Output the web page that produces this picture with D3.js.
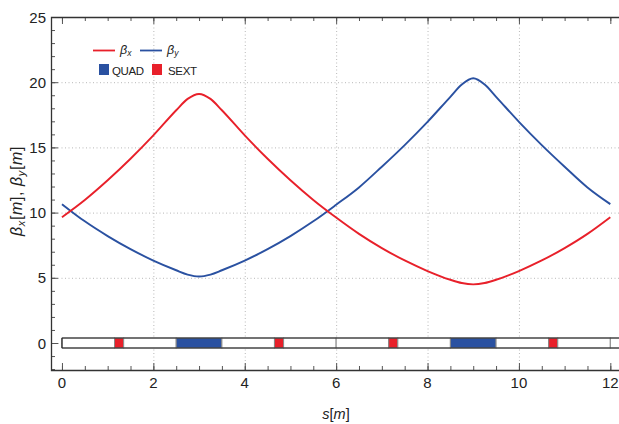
<!DOCTYPE html>
<html>
<head>
<meta charset="utf-8">
<title>beta functions</title>
<script src="https://d3js.org/d3.v7.min.js"></script>
<style>
  body { margin: 0; background: #fff; }
  text { font-family: "Liberation Sans", Arial, sans-serif; fill: #222; }
</style>
</head>
<body>
<script>
// lattice position s [m] and beta functions
const sPos  = [0, 0.5, 1, 1.5, 2, 2.5, 2.75, 3, 3.25, 3.5, 4, 4.5, 5, 5.5, 6, 6.5, 7, 7.5, 8, 8.5, 8.75, 9, 9.25, 9.5, 10, 10.5, 11, 11.5, 12];
const betaX = [9.65, 10.97, 12.48, 14.13, 15.92, 17.85, 18.72, 19.1, 18.72, 17.85, 15.92, 14.13, 12.48, 10.97, 9.62, 8.37, 7.28, 6.33, 5.52, 4.85, 4.6, 4.5, 4.6, 4.85, 5.52, 6.33, 7.28, 8.37, 9.65];
const betaY = [10.65, 9.33, 8.2, 7.2, 6.32, 5.58, 5.25, 5.1, 5.25, 5.58, 6.32, 7.2, 8.2, 9.33, 10.6, 11.93, 13.52, 15.18, 16.96, 18.88, 19.82, 20.3, 19.82, 18.88, 16.96, 15.18, 13.52, 11.93, 10.65];

// lattice elements
const elemStart = [0, 1.15, 1.35, 2.5, 3.5, 4.65, 4.85, 6, 7.15, 7.35, 8.5, 9.5, 10.65, 10.85, 12];
const elemEnd   = [1.15, 1.35, 2.5, 3.5, 4.65, 4.85, 6, 7.15, 7.35, 8.5, 9.5, 10.65, 10.85, 12, 12.6];
const elemType  = ["DRIFT", "SEXT", "DRIFT", "QUAD", "DRIFT", "SEXT", "DRIFT", "DRIFT", "SEXT", "DRIFT", "QUAD", "DRIFT", "SEXT", "DRIFT", "DRIFT"];

const xTicks = [0, 2, 4, 6, 8, 10, 12];
const yTicks = [0, 5, 10, 15, 20, 25];

const W = 619, H = 424;
const mLeft = 51, mRight = 619, mTop = 17, mBottom = 370;
const red = "#e8202a", blue = "#2a51a1";
const typeColor = { DRIFT: "#fff", SEXT: red, QUAD: blue };

const svg = d3.select("body").append("svg")
  .attr("width", W).attr("height", H);

const x = d3.scaleLinear().domain([-0.24, 12.19]).range([mLeft, mRight]);
const y = d3.scaleLinear().domain([-2.07, 25]).range([mBottom, mTop]);

svg.append("clipPath").attr("id", "clip")
  .append("rect").attr("x", mLeft).attr("y", mTop)
  .attr("width", mRight - mLeft).attr("height", mBottom - mTop);

// grid
const grid = svg.append("g").attr("stroke", "#b8b8b8").attr("stroke-dasharray", "1,2.5").attr("stroke-width", 1);
grid.selectAll(".gx").data([2, 4, 6, 8, 10]).join("line")
  .attr("x1", d => x(d) + 0.5).attr("x2", d => x(d) + 0.5)
  .attr("y1", mTop).attr("y2", mBottom);
grid.selectAll(".gy").data([0, 5, 10, 15, 20]).join("line")
  .attr("x1", mLeft).attr("x2", mRight)
  .attr("y1", d => y(d) + 0.5).attr("y2", d => y(d) + 0.5);

// axes (ticks inward)
const minorX = d3.range(0, 12.01, 0.5);
const minorY = d3.range(-2, 25.01, 1);
const axisG = svg.append("g");

function tickLines(g, vals, len, orient) {
  g.selectAll(null).data(vals).join("line")
    .attr("stroke", "#555").attr("stroke-width", 1)
    .each(function (d) {
      const l = d3.select(this);
      if (orient === "bottom") l.attr("x1", x(d) + 0.5).attr("x2", x(d) + 0.5).attr("y1", mBottom).attr("y2", mBottom - len);
      if (orient === "top") l.attr("x1", x(d) + 0.5).attr("x2", x(d) + 0.5).attr("y1", mTop).attr("y2", mTop + len);
      if (orient === "left") l.attr("y1", y(d) + 0.5).attr("y2", y(d) + 0.5).attr("x1", mLeft).attr("x2", mLeft + len);
    });
}
tickLines(axisG, minorX, 4, "bottom");
tickLines(axisG, xTicks, 7, "bottom");
tickLines(axisG, minorX, 4, "top");
tickLines(axisG, xTicks, 7, "top");
tickLines(axisG, minorY, 4, "left");
tickLines(axisG, yTicks, 7, "left");

axisG.append("path")
  .attr("d", `M${mRight},${mTop + 0.5}H${mLeft + 0.5}V${mBottom + 0.5}H${mRight}`)
  .attr("fill", "none").attr("stroke", "#333").attr("stroke-width", 1.3);

axisG.selectAll(".xl").data(xTicks).join("text")
  .attr("x", d => x(d)).attr("y", mBottom + 18)
  .attr("text-anchor", "middle").attr("font-size", 15)
  .text(d => d);
axisG.selectAll(".yl").data(yTicks).join("text")
  .attr("x", mLeft - 5).attr("y", d => y(d) + 5.5)
  .attr("text-anchor", "end").attr("font-size", 15)
  .text(d => d);

// lattice bar
const plot = svg.append("g").attr("clip-path", "url(#clip)");
const barH = 10, barY = y(0) - barH / 2;
const elems = elemStart.map((s, i) => ({ s, e: elemEnd[i], t: elemType[i] }));
plot.selectAll(".el").data(elems).join("rect")
  .attr("x", d => x(d.s)).attr("width", d => x(d.e) - x(d.s))
  .attr("y", barY).attr("height", barH)
  .attr("fill", d => typeColor[d.t])
  .attr("stroke", "#888").attr("stroke-width", 1);
plot.append("line").attr("x1", x(0)).attr("x2", mRight).attr("y1", barY).attr("y2", barY)
  .attr("stroke", "#222").attr("stroke-width", 1.2);
plot.append("line").attr("x1", x(0)).attr("x2", mRight).attr("y1", barY + barH).attr("y2", barY + barH)
  .attr("stroke", "#222").attr("stroke-width", 1.2);
plot.append("line").attr("x1", x(0)).attr("x2", x(0)).attr("y1", barY).attr("y2", barY + barH)
  .attr("stroke", "#222").attr("stroke-width", 1.2);

// beta curves
const line = d3.line().x(d => x(d[0])).y(d => y(d[1])).curve(d3.curveMonotoneX);
plot.append("path").datum(sPos.map((s, i) => [s, betaY[i]]))
  .attr("d", line).attr("fill", "none").attr("stroke", blue).attr("stroke-width", 1.9);
plot.append("path").datum(sPos.map((s, i) => [s, betaX[i]]))
  .attr("d", line).attr("fill", "none").attr("stroke", red).attr("stroke-width", 1.9);

// legend
const lg = svg.append("g").attr("font-size", 11.5);
lg.append("line").attr("x1", 93).attr("x2", 115).attr("y1", 50.5).attr("y2", 50.5).attr("stroke", red).attr("stroke-width", 1.8);
const t1 = lg.append("text").attr("x", 120).attr("y", 54).attr("font-style", "italic").attr("font-size", 12.5);
t1.append("tspan").text("β");
t1.append("tspan").attr("font-size", 8.5).attr("dy", 2).text("x");
lg.append("line").attr("x1", 140).attr("x2", 162).attr("y1", 50.5).attr("y2", 50.5).attr("stroke", blue).attr("stroke-width", 1.8);
const t2 = lg.append("text").attr("x", 167).attr("y", 54).attr("font-style", "italic").attr("font-size", 12.5);
t2.append("tspan").text("β");
t2.append("tspan").attr("font-size", 8.5).attr("dy", 2).text("y");
lg.append("rect").attr("x", 99).attr("y", 64).attr("width", 10).attr("height", 11).attr("fill", blue);
lg.append("text").attr("x", 112).attr("y", 74.5).attr("textLength", 32).text("QUAD");
lg.append("rect").attr("x", 152).attr("y", 64).attr("width", 10).attr("height", 11).attr("fill", red);
lg.append("text").attr("x", 168).attr("y", 74.5).attr("textLength", 29).text("SEXT");

// axis titles
const xt = svg.append("text").attr("x", 336).attr("y", 419).attr("text-anchor", "middle").attr("font-size", 14.5);
xt.append("tspan").attr("font-style", "italic").text("s");
xt.append("tspan").text("[");
xt.append("tspan").attr("font-style", "italic").text("m");
xt.append("tspan").text("]");

const yt = svg.append("text").attr("transform", "translate(22,191) rotate(-90)")
  .attr("text-anchor", "middle").attr("font-size", 16).attr("letter-spacing", 0.6);
yt.append("tspan").attr("font-style", "italic").text("β");
yt.append("tspan").attr("font-style", "italic").attr("font-size", 11).attr("dy", 3).text("x");
yt.append("tspan").attr("dy", -3).text("[");
yt.append("tspan").attr("font-style", "italic").text("m");
yt.append("tspan").text("], ");
yt.append("tspan").attr("font-style", "italic").text("β");
yt.append("tspan").attr("font-style", "italic").attr("font-size", 11).attr("dy", 3).text("y");
yt.append("tspan").attr("dy", -3).text("[");
yt.append("tspan").attr("font-style", "italic").text("m");
yt.append("tspan").text("]");
</script>
</body>
</html>
